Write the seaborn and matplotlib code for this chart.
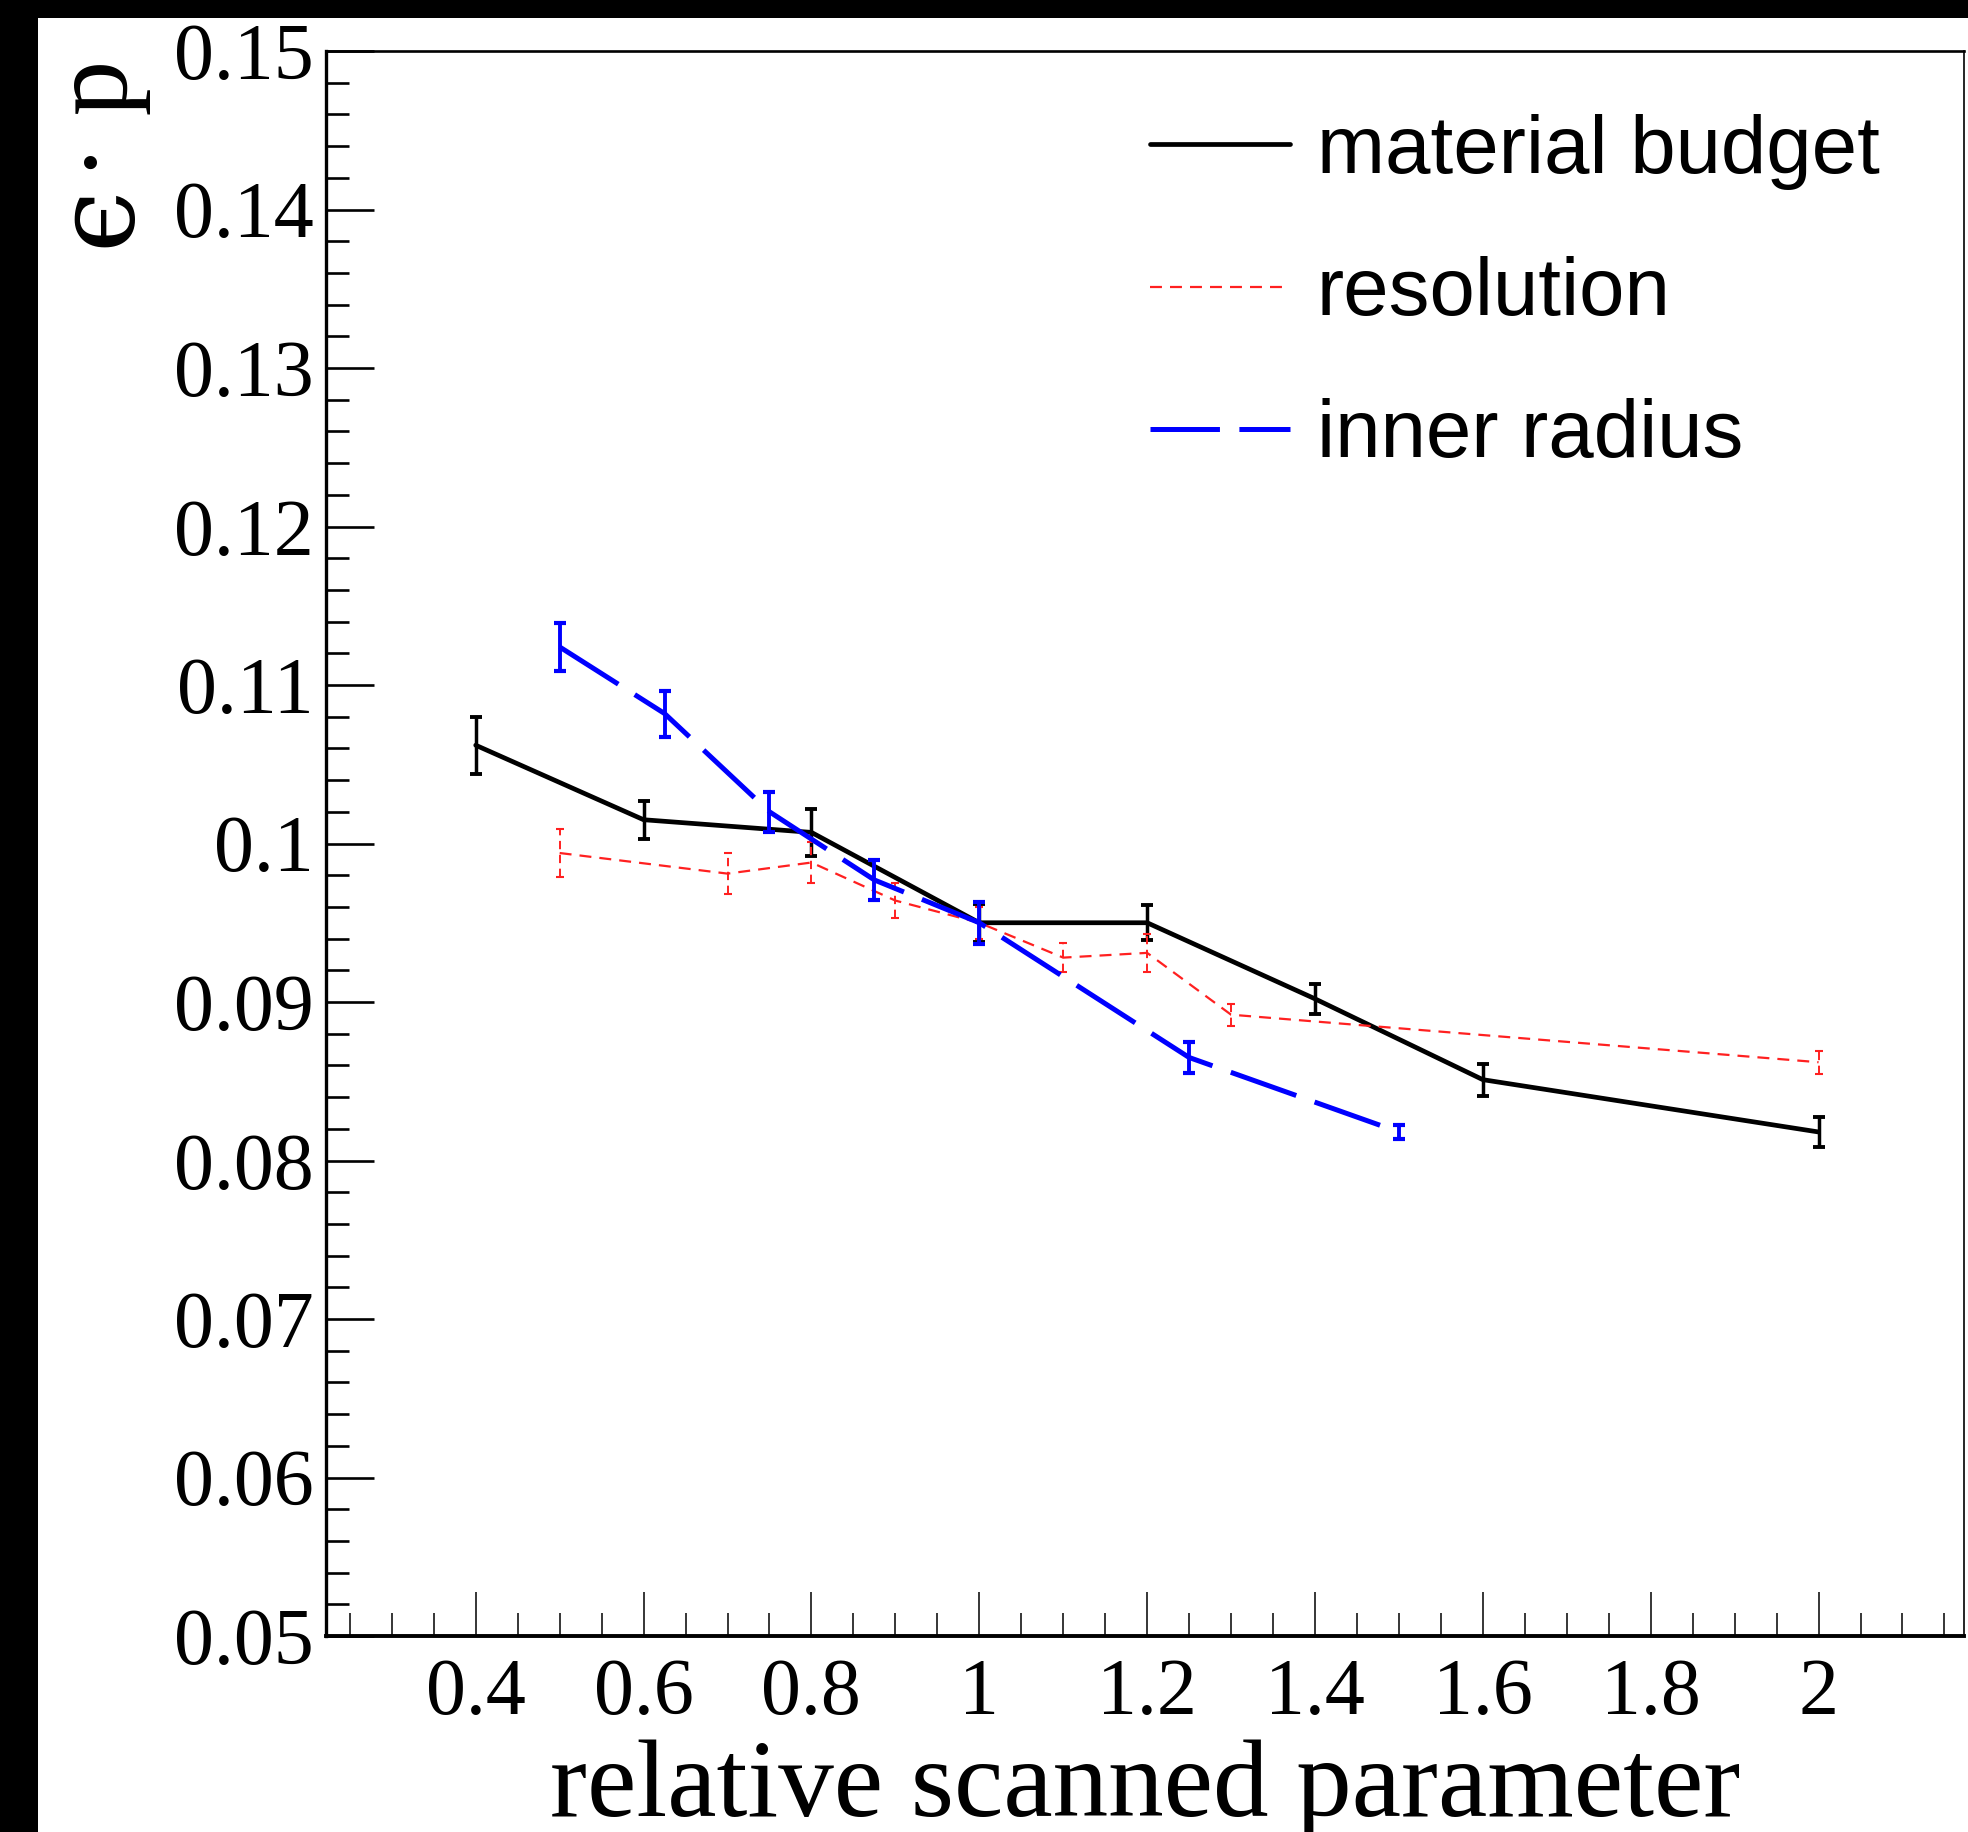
import numpy as np
import pandas as pd
import matplotlib
matplotlib.use("Agg")
import matplotlib.pyplot as plt
import seaborn as sns
from matplotlib.ticker import MultipleLocator, FuncFormatter
from matplotlib.patches import Rectangle
from matplotlib.lines import Line2D
from matplotlib.font_manager import FontProperties

# ---------------- data ----------------
x_material = [0.4, 0.6, 0.8, 1.0, 1.2, 1.4, 1.6, 2.0]
y_material = [0.1062, 0.1015, 0.1007, 0.0950, 0.0950, 0.0902, 0.0851, 0.0818]
e_material = [0.0018, 0.0012, 0.0015, 0.0012, 0.0011, 0.00095, 0.0010, 0.00093]

x_resolution = [0.5, 0.7, 0.8, 0.9, 1.0, 1.1, 1.2, 1.3, 2.0]
y_resolution = [0.0994, 0.0981, 0.0988, 0.0964, 0.0950, 0.0928, 0.0931, 0.0892, 0.0862]
e_resolution = [0.0015, 0.0013, 0.0013, 0.0011, 0.0010, 0.0009, 0.0012, 0.0007, 0.00074]

x_radius = [0.5, 0.625, 0.75, 0.875, 1.0, 1.25, 1.5]
y_radius = [0.1124, 0.1082, 0.1020, 0.0977, 0.0950, 0.0865, 0.0818]
e_radius = [0.0015, 0.00145, 0.00127, 0.00124, 0.00133, 0.00097, 0.00045]

series_labels = ["material budget", "resolution", "inner radius"]
x_label = "relative scanned parameter"
y_label_eps = "\u03f5"
y_label_rest = "\u00b7 p"

# ---------------- style ----------------
sns.set_theme(style="white")
plt.rcParams["lines.scale_dashes"] = False
plt.rcParams["font.family"] = ["Liberation Serif", "DejaVu Serif"]
plt.rcParams["text.color"] = "black"

W, H = 1968, 1832
DPI = 100
fig = plt.figure(figsize=(W / DPI, H / DPI), dpi=DPI, facecolor="white")

# black border bands of the original screenshot
fig.patches.append(Rectangle((0, 0), 38 / W, 1, transform=fig.transFigure,
                             facecolor="black", edgecolor="none", zorder=-10))
fig.patches.append(Rectangle((0, 1 - 18 / H), 1, 18 / H, transform=fig.transFigure,
                             facecolor="black", edgecolor="none", zorder=-10))

ax_left, ax_right, ax_top, ax_bot = 326, 1964, 51, 1636
ax = fig.add_axes([ax_left / W, 1 - ax_bot / H, (ax_right - ax_left) / W, (ax_bot - ax_top) / H])
ax.set_facecolor("white")

styles = [
    dict(color="black", lw=3.4, ls="-", cap=4.2, capthick=2.8, elw=2.5),
    dict(color="#ff2020", lw=1.6, ls=(0, (8.6, 5.8)), cap=3.2, capthick=1.5, elw=1.4),
    dict(color="#0000ff", lw=3.6, ls=(0, (50, 14)), cap=4.2, capthick=3.0, elw=2.8),
]
datasets = [
    (x_material, y_material, e_material),
    (x_resolution, y_resolution, e_resolution),
    (x_radius, y_radius, e_radius),
]

for (xs, ys, es), st, lab in zip(datasets, styles, series_labels):
    df = pd.DataFrame({"x": xs, "y": ys, "series": lab})
    sns.lineplot(data=df, x="x", y="y", color=st["color"], linewidth=st["lw"],
                 linestyle=st["ls"], estimator=None, sort=False, errorbar=None,
                 legend=False, ax=ax)
    eb = ax.errorbar(xs, ys, yerr=es, fmt="none", ecolor=st["color"],
                     elinewidth=st["elw"], capsize=st["cap"], capthick=st["capthick"])
    if st["lw"] < 2:
        eb[2][0].set_linestyle((0, (6, 4)))

ax.set_xlim(0.2216, 2.1733)
ax.set_ylim(0.05, 0.15)
ax.set_xlabel("")
ax.set_ylabel("")

ax.xaxis.set_major_locator(MultipleLocator(0.2))
ax.xaxis.set_minor_locator(MultipleLocator(0.05))
ax.yaxis.set_major_locator(MultipleLocator(0.01))
ax.yaxis.set_minor_locator(MultipleLocator(0.002))
fmt = FuncFormatter(lambda v, p: "%g" % round(v, 4))
ax.xaxis.set_major_formatter(fmt)
ax.yaxis.set_major_formatter(fmt)

ax.tick_params(axis="x", which="major", direction="in", length=31.7, width=1.1,
               color="black", labelsize=57.6, pad=16, bottom=True, top=False,
               labelcolor="black")
ax.tick_params(axis="x", which="minor", direction="in", length=16.6, width=1.1,
               color="black", bottom=True, top=False)
ax.tick_params(axis="y", which="major", direction="in", length=34.5, width=1.9,
               color="black", labelsize=57.6, pad=9, left=True, right=False,
               labelcolor="black")
ax.tick_params(axis="y", which="minor", direction="in", length=16.6, width=1.9,
               color="black", left=True, right=False)
for lbl in ax.get_xticklabels() + ax.get_yticklabels():
    lbl.set_family(["Liberation Serif", "DejaVu Serif"])

for side, w in [("left", 2.4), ("bottom", 2.8), ("top", 1.9), ("right", 1.2)]:
    ax.spines[side].set_visible(True)
    ax.spines[side].set_color("black")
    ax.spines[side].set_linewidth(w)

# axis titles (ROOT style)
fig.text(1145 / W, 1 - 1816 / H, x_label, ha="center", va="baseline",
         fontsize=80, family=["Liberation Serif", "DejaVu Serif"], color="black")
fig.text(128 / W, 1 - 60 / H, y_label_rest, rotation=90, rotation_mode="anchor",
         ha="right", va="baseline", fontsize=80,
         family=["Liberation Serif", "DejaVu Serif"], color="black")
fig.text(128 / W, 1 - 247 / H, y_label_eps, rotation=90, rotation_mode="anchor",
         ha="left", va="baseline", fontsize=80,
         family=["DejaVu Serif"], color="black")

# legend
handles = [Line2D([], [], color=st["color"], lw=st["lw"], ls=st["ls"]) for st in styles]
leg = ax.legend(handles, series_labels, loc="upper left",
                bbox_to_anchor=(1150 / W, 1 - 114 / H), bbox_transform=fig.transFigure,
                frameon=False, prop=FontProperties(family="Liberation Sans", size=58.8),
                handlelength=1.71, handletextpad=0.33, labelspacing=0.81,
                borderpad=0, borderaxespad=0)
for t in leg.get_texts():
    t.set_color("black")

fig.savefig("out.png", dpi=DPI, facecolor="white")
